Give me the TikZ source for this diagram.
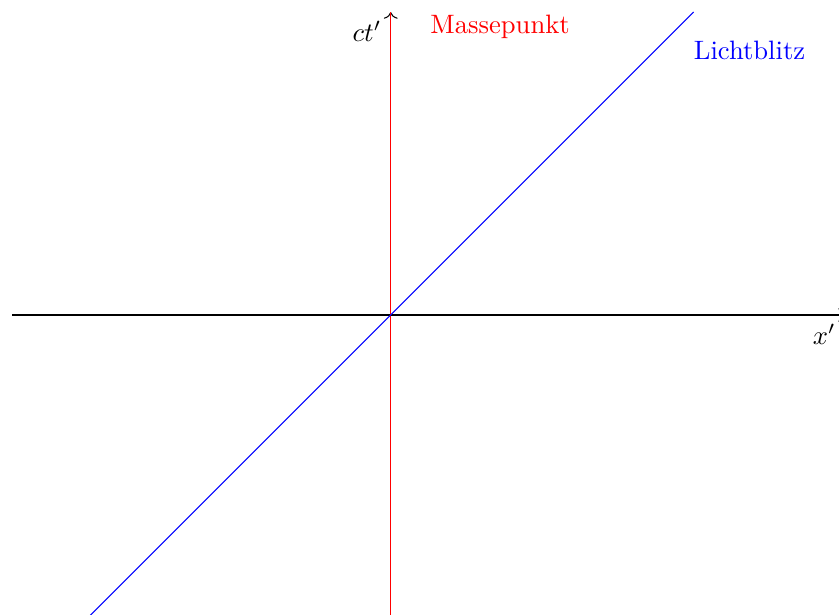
\documentclass[tikz,border=0pt]{standalone}
\usetikzlibrary{arrows.meta, positioning}

\begin{document}
\begin{tikzpicture}
   \useasboundingbox (-5.16,-3.95) rectangle (5.92,4.16);
   \clip (-5.16,-3.95) rectangle (5.92,4.16);
   % Achsen: x' von -5 bis 6, ct' von -4 bis 4
   \coordinate (O) at (0,0);
   \coordinate (xmin) at (-5,0);
   \coordinate (xmax) at (6,0);
   \coordinate (tmin) at (0,-4);
   \coordinate (tmax) at (0,4);
   \draw[->] (xmin) -- (xmax) node[below left] (xlabel) {$x'$};
   \draw[->] (tmin) -- (tmax) node[below left] (tlabel) {$ct'$};
   % Weltlinie Massepunkt (ruht im Ursprung)
   \draw[red] (tmin) -- (tmax);
   \node[red, right] (masse) at (0.4,3.8) {Massepunkt};
   % Lichtblitz: x' = ct'
   \coordinate (lstart) at (-4,-4);
   \coordinate (lend) at (4,4);
   \draw[blue] (lstart) -- (lend);
   \node[blue, right] (licht) at (3.88,3.5) {Lichtblitz};
\end{tikzpicture}
\end{document}
